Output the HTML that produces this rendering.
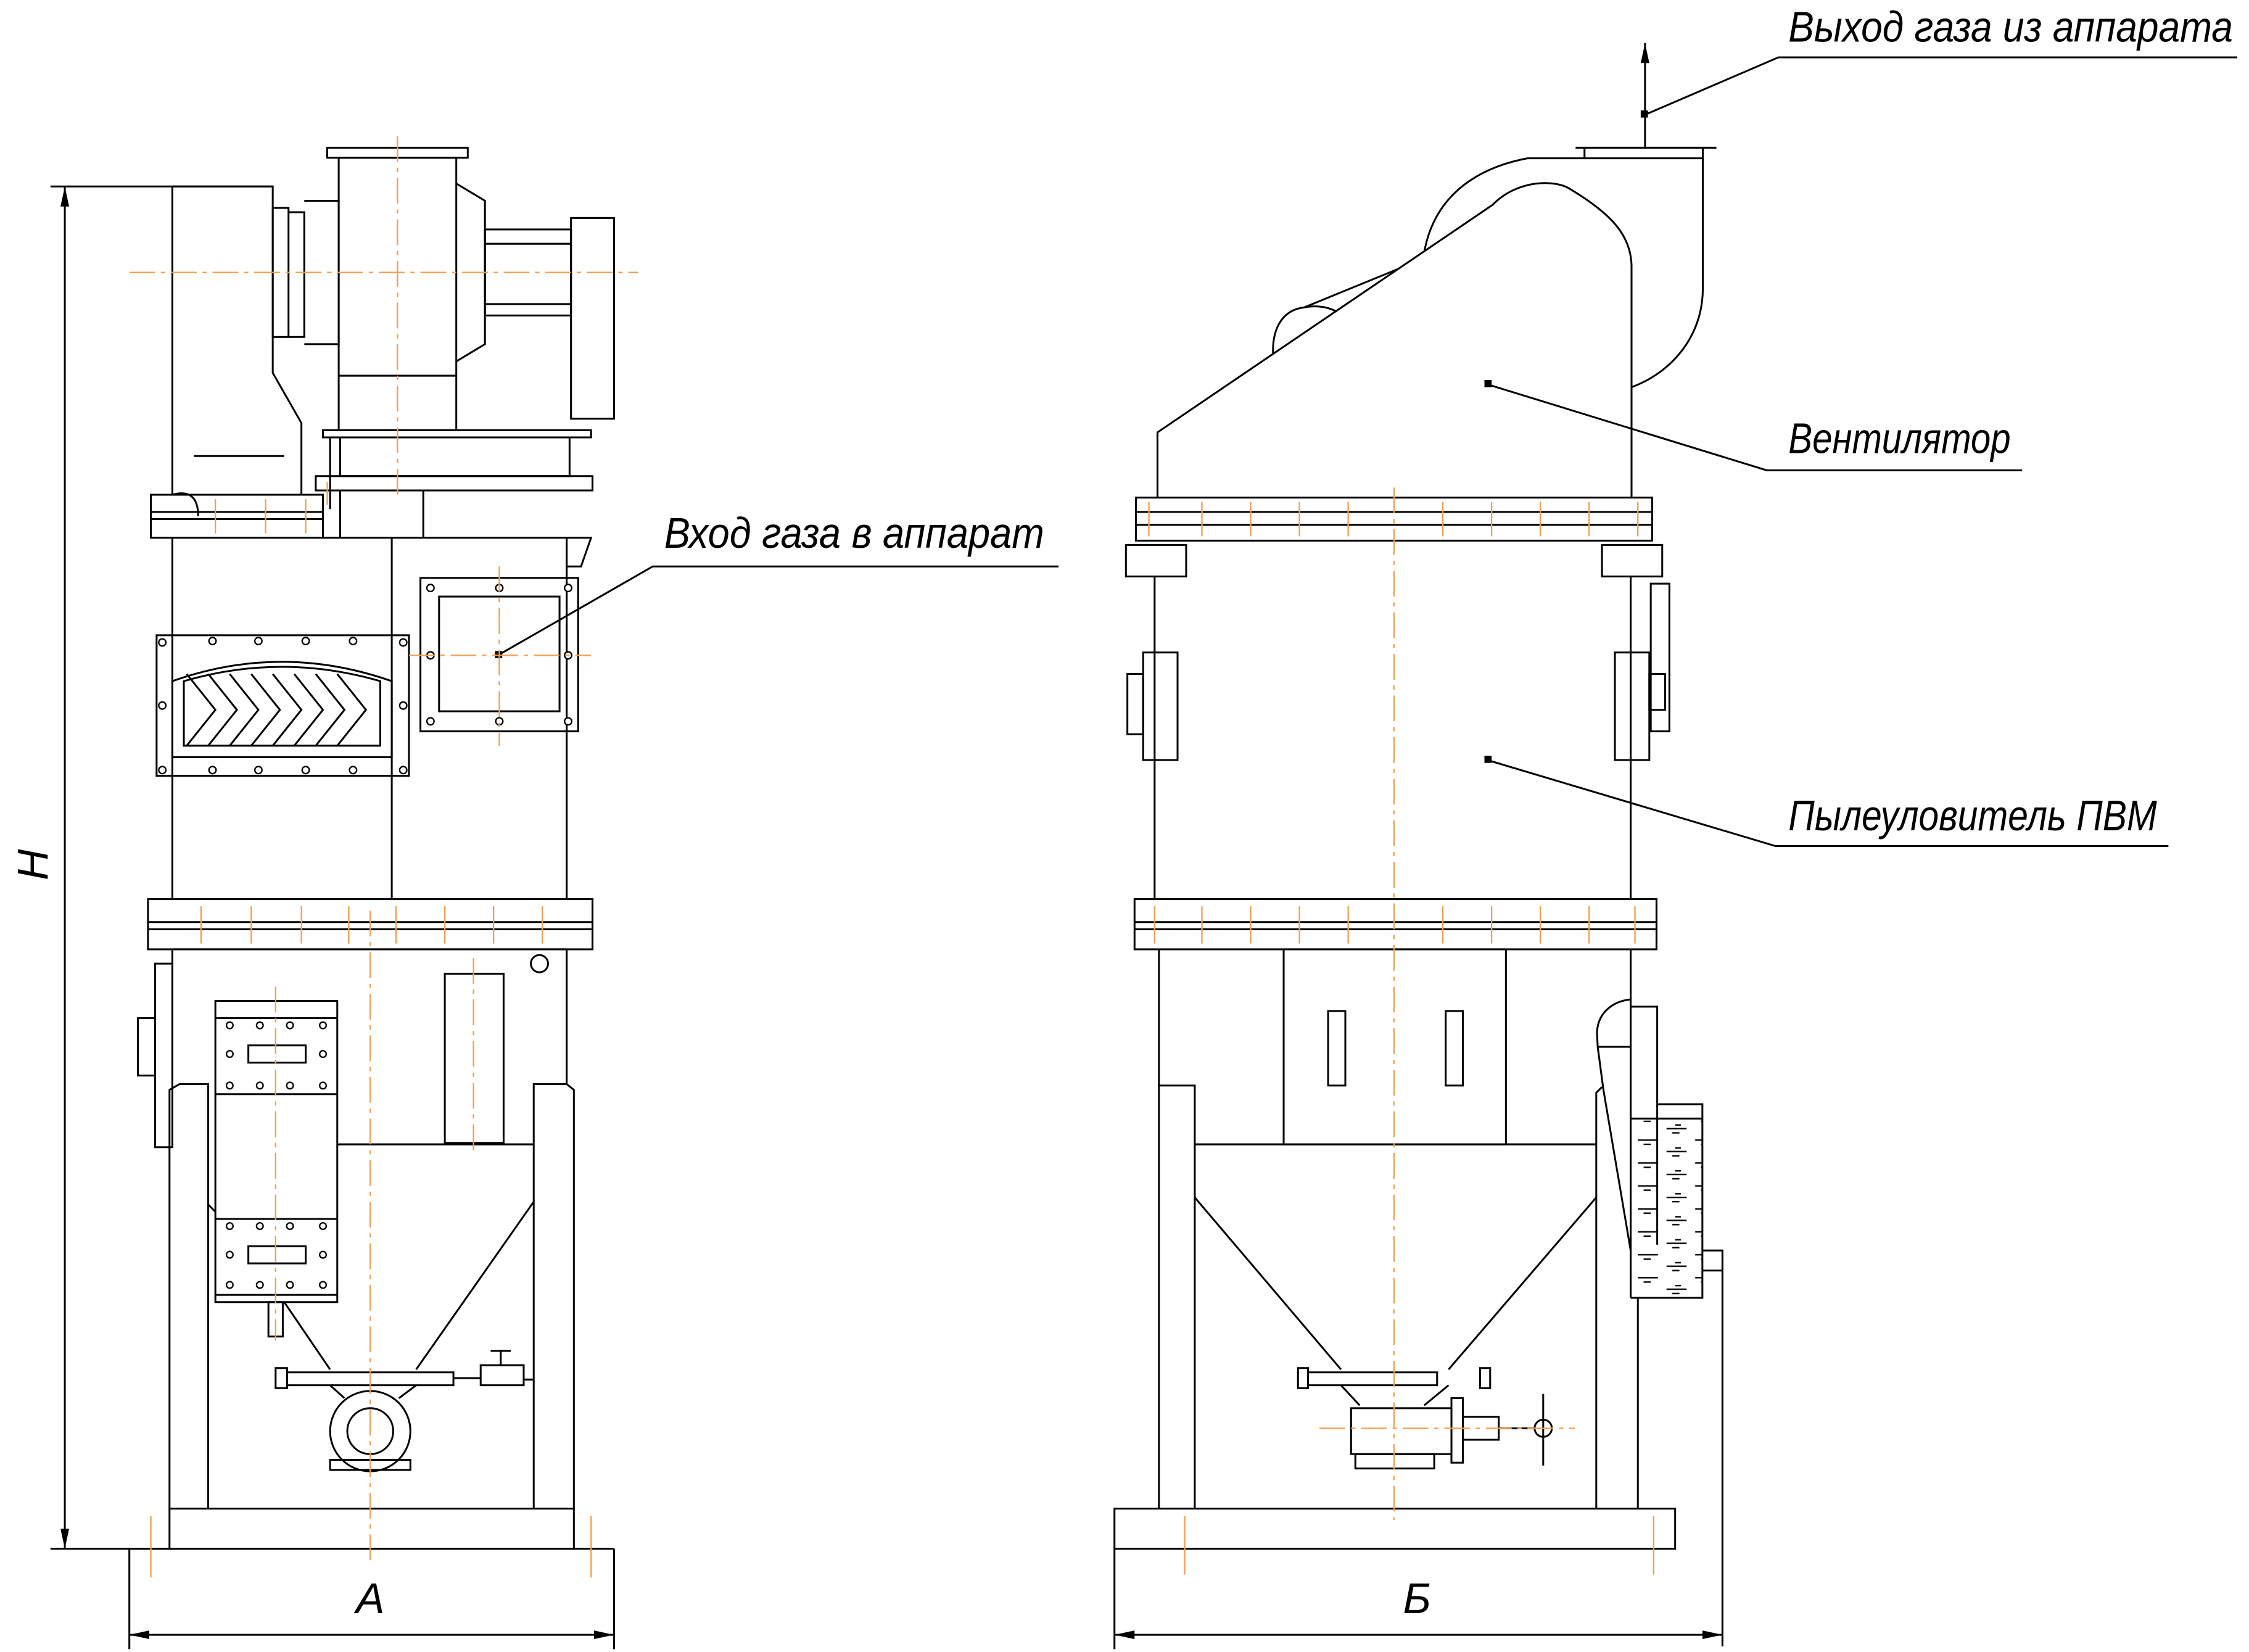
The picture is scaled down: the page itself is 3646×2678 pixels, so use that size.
<!DOCTYPE html>
<html><head><meta charset="utf-8"><style>html,body{margin:0;padding:0;background:#fff}svg{display:block}</style></head>
<body>
<svg width="3646" height="2678" viewBox="0 0 1568 1152" xmlns="http://www.w3.org/2000/svg">
<defs>
<marker id="ar" markerWidth="14" markerHeight="6" refX="14" refY="3" orient="auto-start-reverse" markerUnits="userSpaceOnUse"><path d="M0,0 L14,3 L0,6 Z" fill="#000"/></marker>
<pattern id="wat" width="40" height="16" patternUnits="userSpaceOnUse">
<path d="M2,3 H16 M6,6 H11 M22,11 H36 M26,14 H31 M8,0.5 H12" stroke="#000" stroke-width="1"/>
</pattern>
<clipPath id="tankclip"><path d="M1114,730 L1137,730 V905 H1187 V780 H1155 L1137,780 V730 Z"/></clipPath>
</defs>
<rect width="1568" height="1152" fill="#fff"/>
<g fill="none" stroke="#000" stroke-width="1.3">
<!-- LEFT VIEW -->
<line x1="35" y1="130" x2="190" y2="130"/><line x1="35" y1="1080" x2="120" y2="1080"/>
<line x1="45" y1="130" x2="45" y2="1080" marker-start="url(#ar)" marker-end="url(#ar)"/>
<path d="M120,130 H190 V260 L210,295 V345 M120,130 V345"/>
<rect x="190" y="145" width="11" height="90"/>
<path d="M201,148 H212 V235 H201 M212,140 H236 V240 H212"/>
<line x1="135" y1="318" x2="198" y2="318"/>
<path d="M120,345 Q138,340 138,360"/>
<rect x="236" y="110" width="82" height="190"/>
<rect x="228" y="103" width="98" height="7"/>
<path d="M318,128 L338,140 V240 L318,252"/>
<rect x="338" y="160" width="60" height="60"/>
<line x1="338" y1="170" x2="398" y2="170"/><line x1="338" y1="212" x2="398" y2="212"/>
<rect x="398" y="152" width="30" height="140"/>
<line x1="236" y1="262" x2="318" y2="262"/>
<rect x="225" y="300" width="187" height="5"/>
<rect x="237" y="305" width="160" height="27"/>
<rect x="220" y="332" width="193" height="10"/>
<path d="M230,305 V355 M237,342 V375 M295,342 V375"/>
<rect x="105" y="345" width="120" height="30"/><line x1="105" y1="357" x2="225" y2="357"/><line x1="105" y1="362" x2="225" y2="362"/>
<path d="M120,375 V627 M395,375 V627 M225,375 H395 M273,375 V627 M395,375 H412 L405,395 H395"/>
<rect x="293" y="403" width="110" height="107"/><rect x="306" y="416" width="84" height="80"/>
<rect x="109" y="443" width="176" height="98"/>
<path d="M120,475 Q196,448 273,475 V528 H120 Z"/>
<path d="M128,475 Q196,455 265,475 V520 H128 Z"/>
<path d="M130,470 L150,495 L130,520 M145,470 L165,495 L145,520 M160,470 L180,495 L160,520 M175,470 L195,495 L175,520 M190,470 L210,495 L190,520 M205,470 L225,495 L205,520 M220,470 L240,495 L220,520 M235,470 L255,495 L235,520"/>
<rect x="103" y="627" width="310" height="35"/><line x1="103" y1="643" x2="413" y2="643"/><line x1="103" y1="648" x2="413" y2="648"/>
<path d="M120,662 V756 M395,662 V756 M120,662 H395"/>
<path d="M108,672 H120 V800 H108 Z"/><rect x="96" y="710" width="12" height="40"/>
<circle cx="376" cy="672" r="6"/>
<rect x="310" y="679" width="41" height="118"/>
<path d="M118,760 L125,756 H145 V1052 H118 Z M372,756 H395 L400,760 V1052 H372 Z"/>
<line x1="235" y1="798" x2="372" y2="798"/>
<path d="M145,840 L150,845 M198,908 L230,955 M372,838 L290,955"/>
<rect x="150" y="698" width="85" height="210"/>
<line x1="150" y1="710" x2="235" y2="710"/><line x1="150" y1="763" x2="235" y2="763"/><line x1="150" y1="850" x2="235" y2="850"/><line x1="150" y1="903" x2="235" y2="903"/>
<rect x="173" y="729" width="40" height="12"/><rect x="173" y="869" width="40" height="12"/>
<rect x="187" y="908" width="10" height="24"/>
<rect x="200" y="957" width="116" height="9"/><rect x="192" y="954" width="8" height="14"/>
<rect x="335" y="952" width="30" height="14"/><path d="M349,952 V942 M342,942 H356 M316,961 H335"/>
<path d="M365,962 H372"/>
<path d="M230,966 L240,975 M278,975 L290,966"/>
<circle cx="258" cy="998" r="28"/><circle cx="258" cy="998" r="16"/>
<rect x="230" y="1018" width="56" height="7"/>
<rect x="118" y="1052" width="282" height="28"/>
<path d="M90,1080 H428 M90,1080 V1150 M428,1080 V1150"/>
<line x1="90" y1="1140" x2="428" y2="1140" marker-start="url(#ar)" marker-end="url(#ar)"/>
<!-- RIGHT VIEW -->
<path d="M807,347 V301.5 L1040.8,142.8 C1058,125 1085,125 1095,132 C1125,150 1137,165 1137.6,185 V347"/>
<path d="M993.3,174.4 C1000,140 1025,118 1065,110.4 H1187.3 V202 C1187,235 1165,260 1137.6,270"/>
<path d="M1098.6,103 H1196.8 M1104.8,103 V110.4 M1187.3,103 V110.4"/>
<path d="M887.6,246.3 C887,228 895,216 909.2,214.4 L975,187.5 M909.2,214.4 Q922,212 932,217.3"/>
<line x1="1147" y1="82" x2="1147" y2="30" marker-end="url(#ar)"/>
<line x1="1147" y1="82" x2="1147" y2="103"/>
<rect x="792" y="347" width="360" height="30"/><line x1="792" y1="357" x2="1152" y2="357"/><line x1="792" y1="366" x2="1152" y2="366"/>
<rect x="785" y="380" width="42" height="22"/><rect x="1117" y="380" width="42" height="22"/>
<path d="M805,402 V627 M1137,402 V627"/>
<rect x="797" y="455" width="24" height="75"/><rect x="786" y="470" width="11" height="42"/>
<rect x="1126" y="455" width="24" height="75"/><rect x="1151" y="407" width="13" height="103"/><rect x="1150" y="470" width="11" height="25"/>
<rect x="791" y="627" width="364" height="35"/><line x1="791" y1="643" x2="1155" y2="643"/><line x1="791" y1="648" x2="1155" y2="648"/>
<path d="M808,662 V757 M1137,662 V905"/>
<rect x="895" y="662" width="155" height="136"/>
<rect x="926" y="705" width="12" height="52"/><rect x="1008" y="705" width="12" height="52"/>
<path d="M808,757 H833 V1052 H808 Z"/>
<path d="M1113,1052 V762 L1117,758"/>
<line x1="833" y1="798" x2="1113" y2="798"/>
<path d="M833,835 L935,955 M1113,835 L1010,955"/>
<!-- tank -->
<path d="M1137,697 C1125,698 1114,706 1113.5,720 L1114,730 L1118,760 L1137,872"/>
<path d="M1137,702 H1155.5 V868"/>
<path d="M1155.5,770 H1187 V905 H1137"/>
<line x1="1114" y1="730" x2="1137" y2="730"/>
<line x1="1137" y1="780" x2="1187" y2="780"/>
<path d="M1187,872 H1201 V1148 M1187,886 H1201 M1142,905 V1052"/>
<rect x="912" y="957" width="90" height="9"/><rect x="905" y="954" width="7" height="14"/><rect x="1032" y="954" width="7" height="14"/>
<path d="M935,966 L948,980 M993,980 L1010,966"/>
<rect x="942" y="982" width="70" height="32"/>
<rect x="945" y="1014" width="55" height="10"/>
<rect x="1012" y="975" width="8" height="45"/><rect x="1020" y="988" width="25" height="16"/>
<path d="M1045,996 H1070"/><circle cx="1076" cy="996" r="6"/><line x1="1076" y1="972" x2="1076" y2="1022"/>
<rect x="777" y="1052" width="391" height="28"/>
<path d="M777,1080 V1150"/>
<line x1="777" y1="1140" x2="1201" y2="1140" marker-start="url(#ar)" marker-end="url(#ar)"/>
<!-- leaders -->
<path d="M1147,80 L1240,40 H1560"/>
<path d="M1037,268 L1232,328 H1410"/>
<path d="M1037,530 L1238,590 H1512"/>
<path d="M347,457 L455,395 H738"/>
</g>
<g clip-path="url(#tankclip)"><path d="M1114,730 L1118,760 L1137,872 V905 H1187 V780 H1137 V730 Z" fill="url(#wat)"/></g>
<g fill="#000">
<rect x="1144" y="77" width="5" height="5"/><rect x="1035" y="265" width="5" height="5"/><rect x="1035" y="527" width="5" height="5"/><rect x="345" y="454" width="5" height="5"/>
</g>
<g fill="#fff" stroke="#000" stroke-width="1">
<circle cx="113" cy="448" r="2.5"/><circle cx="148" cy="447" r="2.5"/><circle cx="180" cy="447" r="2.5"/><circle cx="213" cy="447" r="2.5"/><circle cx="246" cy="447" r="2.5"/><circle cx="281" cy="448" r="2.5"/>
<circle cx="113" cy="537" r="2.5"/><circle cx="148" cy="537" r="2.5"/><circle cx="180" cy="537" r="2.5"/><circle cx="213" cy="537" r="2.5"/><circle cx="246" cy="537" r="2.5"/><circle cx="281" cy="537" r="2.5"/>
<circle cx="113" cy="492" r="2.5"/><circle cx="281" cy="492" r="2.5"/>
<circle cx="300" cy="410" r="2.5"/><circle cx="348" cy="410" r="2.5"/><circle cx="396" cy="410" r="2.5"/><circle cx="300" cy="457" r="2.5"/><circle cx="396" cy="457" r="2.5"/><circle cx="300" cy="503" r="2.5"/><circle cx="348" cy="503" r="2.5"/><circle cx="396" cy="503" r="2.5"/>
<circle cx="160" cy="715" r="2.3"/><circle cx="181" cy="715" r="2.3"/><circle cx="202" cy="715" r="2.3"/><circle cx="225" cy="715" r="2.3"/>
<circle cx="160" cy="735" r="2.3"/><circle cx="225" cy="735" r="2.3"/>
<circle cx="160" cy="757" r="2.3"/><circle cx="181" cy="757" r="2.3"/><circle cx="202" cy="757" r="2.3"/><circle cx="225" cy="757" r="2.3"/>
<circle cx="160" cy="855" r="2.3"/><circle cx="181" cy="855" r="2.3"/><circle cx="202" cy="855" r="2.3"/><circle cx="225" cy="855" r="2.3"/>
<circle cx="160" cy="875" r="2.3"/><circle cx="225" cy="875" r="2.3"/>
<circle cx="160" cy="896" r="2.3"/><circle cx="181" cy="896" r="2.3"/><circle cx="202" cy="896" r="2.3"/><circle cx="225" cy="896" r="2.3"/>
</g>
<g stroke="#f0a050" stroke-width="1" stroke-dasharray="18,4,3,4" fill="none">
<line x1="90" y1="190" x2="445" y2="190"/><line x1="277" y1="95" x2="277" y2="345"/>
<line x1="348" y1="395" x2="348" y2="520"/><line x1="285" y1="457" x2="412" y2="457"/>
<line x1="258" y1="635" x2="258" y2="1088"/>
<line x1="192" y1="688" x2="192" y2="935"/>
<line x1="330" y1="668" x2="330" y2="805"/>
<line x1="972" y1="340" x2="972" y2="1060"/>
<line x1="920" y1="996" x2="1098" y2="996"/>
</g>
<g stroke="#f0a050" stroke-width="1">
<path d="M150,348 V372 M185,348 V372 M213,348 V372 M228,336 V352"/>
<path d="M140,632 V658 M175,632 V658 M210,632 V658 M243,632 V658 M276,632 V658 M310,632 V658 M344,632 V658 M378,632 V658"/>
<path d="M105,1057 V1100 M412,1057 V1100"/>
<path d="M801,350 V374 M838,350 V374 M872,350 V374 M906,350 V374 M940,350 V374 M1006,350 V374 M1040,350 V374 M1074,350 V374 M1108,350 V374 M1142,350 V374"/>
<path d="M805,632 V658 M838,632 V658 M872,632 V658 M906,632 V658 M940,632 V658 M1006,632 V658 M1040,632 V658 M1074,632 V658 M1108,632 V658 M1140,632 V658"/>
<path d="M826,1057 V1098 M1153,1057 V1098"/>
</g>
<g font-family="'Liberation Sans','DejaVu Sans',sans-serif" font-style="italic" fill="#000">
<text x="1247" y="29" font-size="30" textLength="310" lengthAdjust="spacingAndGlyphs">Выход газа из аппарата</text>
<text x="1247" y="316" font-size="30" textLength="155" lengthAdjust="spacingAndGlyphs">Вентилятор</text>
<text x="1247" y="579" font-size="30" textLength="257" lengthAdjust="spacingAndGlyphs">Пылеуловитель ПВМ</text>
<text x="463" y="382" font-size="30" textLength="265" lengthAdjust="spacingAndGlyphs">Вход газа в аппарат</text>
<text x="258" y="1125" font-size="30" text-anchor="middle">A</text>
<text x="988" y="1125" font-size="30" text-anchor="middle">Б</text>
<text transform="translate(33,603) rotate(-90)" font-size="30" text-anchor="middle">H</text>
</g>
</svg>
</body></html>
